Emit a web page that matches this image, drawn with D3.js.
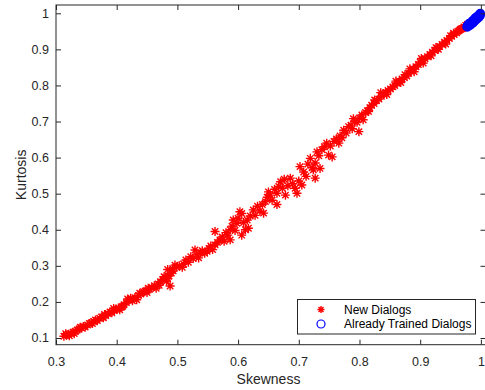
<!DOCTYPE html>
<html>
<head>
<meta charset="utf-8">
<script src="https://cdn.jsdelivr.net/npm/d3@7"></script>
<style>
  body { margin: 0; background: #fff; }
  svg { font-family: "Liberation Sans", Arial, Helvetica, sans-serif; }
</style>
</head>
<body>
<div id="chart"></div>
<script>
// skewness / kurtosis of the new dialogs (red stars)
var newDialogs = [
  [0.313,0.105],[0.317,0.108],[0.320,0.110],[0.316,0.112],[0.322,0.106],[0.325,0.113],[0.328,0.116],
  [0.332,0.118],[0.335,0.122],[0.338,0.125],[0.342,0.128],[0.345,0.132],[0.348,0.130],[0.352,0.136],
  [0.355,0.140],[0.358,0.142],[0.362,0.146],[0.365,0.150],[0.368,0.148],[0.372,0.155],[0.375,0.158],
  [0.378,0.156],[0.382,0.162],[0.386,0.168],[0.389,0.172],[0.392,0.170],[0.396,0.176],[0.400,0.180],
  [0.403,0.183],[0.405,0.178],[0.408,0.186],[0.412,0.192],[0.416,0.198],[0.420,0.205],[0.423,0.210],
  [0.426,0.203],[0.430,0.212],[0.433,0.206],[0.436,0.218],[0.440,0.222],[0.444,0.228],[0.447,0.230],
  [0.450,0.226],[0.454,0.235],[0.458,0.240],[0.462,0.245],[0.465,0.238],[0.468,0.250],[0.472,0.256],
  [0.476,0.262],[0.480,0.268],[0.482,0.258],[0.484,0.264],[0.486,0.272],[0.488,0.244],[0.490,0.280],
  [0.484,0.290],[0.493,0.286],[0.496,0.302],[0.499,0.296],
  [0.330,0.112],[0.340,0.130],[0.360,0.140],[0.380,0.165],[0.395,0.182],[0.410,0.188],[0.418,0.208],
  [0.438,0.224],[0.452,0.238],[0.470,0.246],[0.478,0.270],[0.492,0.292],
  [0.503,0.300],[0.508,0.296],[0.510,0.305],[0.514,0.316],[0.518,0.310],[0.522,0.325],[0.526,0.320],
  [0.529,0.344],[0.532,0.330],[0.535,0.322],[0.538,0.336],[0.541,0.342],[0.545,0.335],[0.549,0.340],
  [0.552,0.348],[0.555,0.355],[0.558,0.345],[0.562,0.358],[0.562,0.395],[0.566,0.365],[0.570,0.372],
  [0.574,0.380],[0.577,0.368],[0.580,0.392],[0.583,0.385],[0.587,0.400],[0.587,0.372],[0.590,0.410],
  [0.592,0.427],[0.595,0.398],[0.598,0.418],[0.600,0.432],[0.603,0.450],[0.606,0.445],[0.606,0.385],
  [0.609,0.420],[0.612,0.400],[0.615,0.427],[0.617,0.404],[0.620,0.438],[0.625,0.455],[0.628,0.440],
  [0.632,0.465],[0.636,0.452],[0.640,0.470],[0.642,0.446],[0.645,0.478],[0.648,0.490],[0.650,0.505],
  [0.653,0.496],[0.656,0.482],[0.660,0.512],[0.664,0.501],[0.664,0.470],[0.667,0.520],[0.670,0.533],
  [0.673,0.515],[0.676,0.540],[0.678,0.496],[0.682,0.522],[0.686,0.543],[0.690,0.528],[0.694,0.515],
  [0.697,0.501],[0.700,0.535],[0.702,0.575],[0.705,0.524],[0.708,0.560],[0.712,0.548],
  [0.715,0.582],[0.719,0.598],[0.722,0.572],[0.724,0.566],[0.727,0.585],[0.727,0.543],[0.730,0.616],
  [0.733,0.605],[0.735,0.570],[0.738,0.622],[0.742,0.630],[0.746,0.640],[0.749,0.607],[0.752,0.632],
  [0.755,0.602],[0.758,0.645],[0.762,0.652],[0.766,0.640],[0.768,0.660],[0.771,0.655],[0.774,0.676],
  [0.778,0.668],[0.782,0.686],[0.786,0.690],[0.788,0.680],[0.792,0.700],[0.796,0.698],[0.799,0.672],
  [0.800,0.710],[0.804,0.718],[0.806,0.705],[0.810,0.725],[0.813,0.730],[0.817,0.738],[0.820,0.745],
  [0.824,0.750],[0.828,0.758],[0.832,0.762],[0.835,0.780],[0.836,0.770],[0.840,0.776],[0.843,0.780],
  [0.847,0.786],[0.851,0.790],[0.855,0.796],[0.858,0.800],[0.862,0.806],[0.866,0.812],[0.868,0.808],
  [0.870,0.818],[0.874,0.822],[0.878,0.826],[0.881,0.834],[0.883,0.846],[0.885,0.840],[0.889,0.846],
  [0.893,0.852],[0.897,0.858],[0.900,0.865],[0.904,0.870],[0.905,0.862],[0.908,0.874],[0.912,0.880],
  [0.916,0.886],[0.920,0.892],[0.924,0.897],[0.928,0.903],[0.930,0.900],[0.932,0.908],[0.936,0.914],
  [0.940,0.920],[0.944,0.925],[0.948,0.930],[0.952,0.936],[0.955,0.945],[0.956,0.941],[0.960,0.946],
  [0.964,0.952],[0.968,0.957],[0.970,0.958],[0.972,0.962],[0.975,0.966],[0.978,0.970],
  [0.790,0.708],[0.815,0.728],[0.825,0.760],[0.845,0.775],[0.860,0.812],[0.875,0.830],[0.890,0.838],
  [0.902,0.875],[0.918,0.882],[0.926,0.905],[0.942,0.915],[0.950,0.938],[0.962,0.950],[0.966,0.955]
];

// dialogs already used for training (blue circles)
var trainedDialogs = [
  [0.977,0.963],[0.978,0.966],[0.979,0.968],[0.980,0.967],[0.981,0.970],[0.982,0.972],[0.983,0.971],
  [0.984,0.974],[0.985,0.976],[0.986,0.975],[0.987,0.978],[0.988,0.980],[0.989,0.979],[0.990,0.982],
  [0.991,0.984],[0.992,0.983],[0.993,0.986],[0.994,0.988],[0.995,0.987],[0.996,0.990],[0.997,0.992],
  [0.998,0.994],[0.998,0.997],[0.999,0.998],[0.996,0.994],[0.994,0.985],[0.990,0.986],[0.985,0.972],
  [0.981,0.966],[0.992,0.988],[0.997,0.995],[0.999,1.000],
  [0.978,0.962],[0.980,0.971],[0.983,0.968],[0.986,0.979],[0.988,0.976],[0.991,0.980],[0.993,0.990],
  [0.995,0.992],[0.997,0.989],[0.999,0.994],[0.982,0.969],[0.987,0.973]
];

var xTicks = [0.3, 0.4, 0.5, 0.6, 0.7, 0.8, 0.9, 1];
var yTicks = [0.1, 0.2, 0.3, 0.4, 0.5, 0.6, 0.7, 0.8, 0.9, 1];
var legendLabels = ["New Dialogs", "Already Trained Dialogs"];

var W = 485, H = 390;
var mLeft = 56, mRight = 485.5, mTop = 5, mBottom = 344.7;
var axisColor = "#262626";

var svg = d3.select("#chart").append("svg")
  .attr("width", W)
  .attr("height", H);

var x = d3.scaleLinear().domain([0.3, 1.0076]).range([mLeft, mRight]);
var y = d3.scaleLinear().domain([0.0814, 1.023]).range([mBottom, mTop]);

var starPath = "M-4.5,0H4.5M0,-4.5V4.5M-3.2,-3.2L3.2,3.2M-3.2,3.2L3.2,-3.2";

// red stars
svg.append("g")
  .selectAll("path")
  .data(newDialogs)
  .enter().append("path")
    .attr("d", starPath)
    .attr("transform", d => "translate(" + x(d[0]) + "," + y(d[1]) + ")")
    .attr("fill", "none")
    .attr("stroke", "#ff0000")
    .attr("stroke-width", 1.4);

// blue circles on top
svg.append("g")
  .selectAll("circle")
  .data(trainedDialogs)
  .enter().append("circle")
    .attr("cx", d => x(d[0]))
    .attr("cy", d => y(d[1]))
    .attr("r", 4)
    .attr("fill", "none")
    .attr("stroke", "#0000ff")
    .attr("stroke-width", 1.3);

// axes, ticks pointing inward
var gx = svg.append("g")
  .attr("transform", "translate(0," + mBottom + ")")
  .call(d3.axisBottom(x).tickValues(xTicks).tickFormat(d3.format("")).tickSizeInner(-5).tickSizeOuter(0).tickPadding(12));
var gy = svg.append("g")
  .attr("transform", "translate(" + mLeft + ",0)")
  .call(d3.axisLeft(y).tickValues(yTicks).tickFormat(d3.format("")).tickSizeInner(-5).tickSizeOuter(0).tickPadding(7));
var gt = svg.append("g")
  .attr("transform", "translate(0," + mTop + ")")
  .call(d3.axisTop(x).tickValues(xTicks).tickFormat("").tickSizeInner(-5).tickSizeOuter(0));
var gr = svg.append("g")
  .attr("transform", "translate(" + mRight + ",0)")
  .call(d3.axisRight(y).tickValues(yTicks).tickFormat("").tickSizeInner(-5).tickSizeOuter(0));

[gx, gy, gt, gr].forEach(g => {
  g.select(".domain").remove();
  g.selectAll("line").attr("stroke", axisColor);
  g.selectAll("text").attr("fill", axisColor).attr("font-size", "12.5px").attr("font-family", null);
});

// box
svg.append("rect")
  .attr("x", mLeft)
  .attr("y", mTop)
  .attr("width", mRight - mLeft)
  .attr("height", mBottom - mTop)
  .attr("fill", "none")
  .attr("stroke", axisColor)
  .attr("stroke-width", 1);

// axis titles
svg.append("text")
  .attr("x", (mLeft + 481) / 2)
  .attr("y", 384)
  .attr("text-anchor", "middle")
  .attr("font-size", "14px")
  .attr("fill", axisColor)
  .text("Skewness");

svg.append("text")
  .attr("transform", "translate(26," + ((mTop + mBottom) / 2) + ") rotate(-90)")
  .attr("text-anchor", "middle")
  .attr("font-size", "14px")
  .attr("fill", axisColor)
  .text("Kurtosis");

// legend
var legend = svg.append("g");
legend.append("rect")
  .attr("x", 297.5).attr("y", 299.5)
  .attr("width", 178).attr("height", 34.5)
  .attr("fill", "#fff")
  .attr("stroke", axisColor)
  .attr("stroke-width", 1);

var rows = [309.5, 324];
legend.append("path")
  .attr("d", "M-3.5,0H3.5M0,-3.5V3.5M-2.5,-2.5L2.5,2.5M-2.5,2.5L2.5,-2.5")
  .attr("transform", "translate(321," + rows[0] + ")")
  .attr("fill", "none")
  .attr("stroke", "#ff0000")
  .attr("stroke-width", 1.4);
legend.append("circle")
  .attr("cx", 321).attr("cy", rows[1]).attr("r", 4)
  .attr("fill", "none")
  .attr("stroke", "#0000ff")
  .attr("stroke-width", 1.2);

legend.selectAll("text.lab")
  .data(legendLabels)
  .enter().append("text")
    .attr("class", "lab")
    .attr("x", 344)
    .attr("y", (d, i) => rows[i])
    .attr("dy", "0.35em")
    .attr("font-size", "12px")
    .attr("fill", "#000")
    .text(d => d);
</script>
</body>
</html>
